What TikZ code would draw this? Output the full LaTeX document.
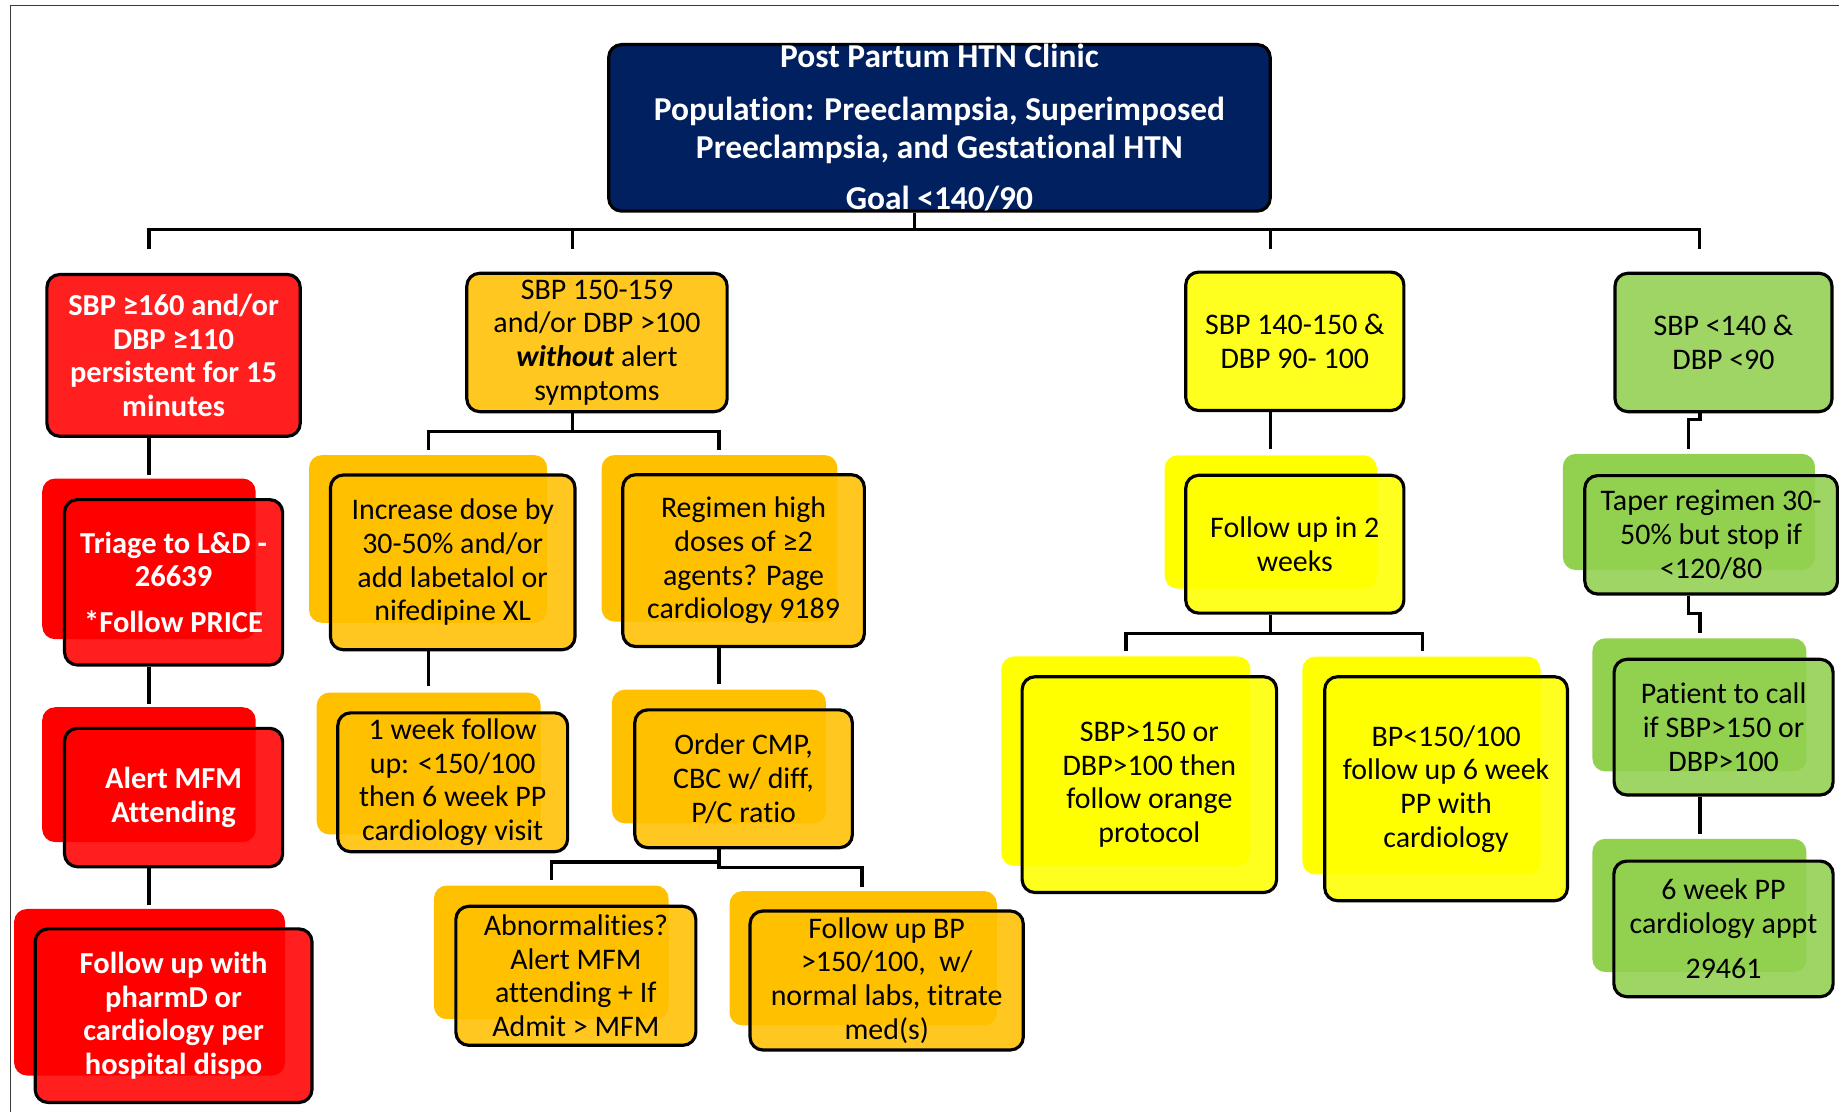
\documentclass[tikz,border=0pt]{standalone}
\usepackage{fontspec}
\setmainfont{Carlito}[Ligatures={TeX,NoCommon}]
\definecolor{navyc}{HTML}{002060}
\definecolor{redc}{HTML}{FF0000}
\definecolor{orangec}{HTML}{FFC000}
\definecolor{yellowc}{HTML}{FFFF00}
\definecolor{greenc}{HTML}{92D050}
\definecolor{framec}{HTML}{3A3A3A}
\newcommand{\titlefont}{\fontsize{28.5}{33}\selectfont\bfseries}
\newcommand{\redfont}{\fontsize{26}{28.5}\selectfont\bfseries}
\newcommand{\normfont}{\fontsize{25.5}{28.7}\selectfont}
\tikzset{
  conn/.style={line width=2.7pt, draw=black},
  box/.style={draw=black, line width=2.7pt, rounded corners=11pt, align=center, inner sep=0pt, fill opacity=0.88, text opacity=1},
  backbox/.style={rounded corners=11pt, inner sep=0pt},
  redbox/.style={box, fill=redc, text=white, font=\redfont},
  orangebox/.style={box, fill=orangec, text=black, font=\normfont},
  yellowbox/.style={box, fill=yellowc, text=black, font=\normfont},
  greenbox/.style={box, fill=greenc, text=black, font=\normfont},
  redback/.style={backbox, fill=redc},
  orangeback/.style={backbox, fill=orangec},
  yellowback/.style={backbox, fill=yellowc},
  greenback/.style={backbox, fill=greenc},
}
\begin{document}
\begin{tikzpicture}[x=1pt, y=-1pt]
\useasboundingbox (0,0) rectangle (1568,948);
\fill[white] (0,0) rectangle (1568,948);
\draw[framec, line width=1pt] (9,948) -- (9,5) -- (1568,5);

% ---------- coordinates for connector ends ----------
\coordinate (hub) at (780,196);
\coordinate (dR) at (127,212);
\coordinate (dO) at (488,212);
\coordinate (dY) at (1083,212);
\coordinate (dG) at (1449,212);
\coordinate (r12) at (127,405);
\coordinate (r23) at (127,600);
\coordinate (r34) at (127,772);
\coordinate (o1hub) at (488,368);
\coordinate (o1l) at (365,384);
\coordinate (o1r) at (613,384);
\coordinate (o24) at (365,585);
\coordinate (o35) at (613,583);
\coordinate (o5hubl) at (613,735);
\coordinate (o5hubr) at (613,740);
\coordinate (o5l) at (470,750);
\coordinate (o5r) at (735,756);
\coordinate (y12) at (1083,383);
\coordinate (y2hub) at (1083,540);
\coordinate (y2l) at (960,555);
\coordinate (y2r) at (1213,555);
\coordinate (g1a) at (1449.5,358);
\coordinate (g12) at (1440,383);
\coordinate (g2a) at (1440,523);
\coordinate (g23) at (1449.5,540);
\coordinate (g34) at (1449.5,711);

% ---------- boxes (back shapes first) ----------
\node[redback, minimum width=182, minimum height=137] (r2b) at (127,476.5) {};
\node[redback, minimum width=182, minimum height=115] (r3b) at (127,660.5) {};
\node[redback, minimum width=231, minimum height=142] (r4b) at (127.5,846) {};
\node[orangeback, minimum width=203, minimum height=143] (o2b) at (365,459.5) {};
\node[orangeback, minimum width=201, minimum height=142] (o3b) at (613.5,459) {};
\node[orangeback, minimum width=191, minimum height=121] (o4b) at (365.5,651) {};
\node[orangeback, minimum width=182.5, minimum height=114] (o5b) at (613,645) {};
\node[orangeback, minimum width=200, minimum height=114] (o6b) at (470,812) {};
\node[orangeback, minimum width=228, minimum height=114.5] (o7b) at (736,817) {};
\node[yellowback, minimum width=181, minimum height=113.6] (y2b) at (1083.5,445) {};
\node[yellowback, minimum width=212.4, minimum height=178.7] (y3b) at (960,649) {};
\node[yellowback, minimum width=203, minimum height=185.8] (y4b) at (1212,652.7) {};
\node[greenback, minimum width=215, minimum height=99] (g2b) at (1440,436.5) {};
\node[greenback, minimum width=182.5, minimum height=113.5] (g3b) at (1449,601) {};
\node[greenback, minimum width=182.5, minimum height=113.6] (g4b) at (1449,772) {};

% ---------- main boxes ----------
\node[box, fill=navyc, fill opacity=1, minimum width=564, minimum height=142] (top) at (801,109) {};
\node[text=white, font=\titlefont, align=center, inner sep=0pt] (toptext) at (801,108.5)
  {Post Partum HTN Clinic\\[12pt]Population: Preeclampsia, Superimposed\\Preeclampsia, and Gestational HTN\\[10pt]Goal <140/90};

\node[redbox, minimum width=216, minimum height=138] (r1) at (148,303)
  {SBP ≥160 and/or\\DBP ≥110\\persistent for 15\\minutes};
\node[redbox, minimum width=186, minimum height=141] (r2) at (148,496.5)
  {Triage to L\&D -\\26639\\[11pt]*Follow PRICE};
\node[redbox, minimum width=186, minimum height=118] (r3) at (148,680)
  {Alert MFM\\Attending};
\node[redbox, minimum width=236, minimum height=148] (r4) at (148,866)
  {Follow up with\\pharmD or\\cardiology per\\hospital dispo};

\node[orangebox, minimum width=222, minimum height=118] (o1) at (509,292)
  {SBP 150-159\\and/or DBP >100\\\textbf{\textit{without}} alert\\symptoms};
\node[orangebox, minimum width=208.5, minimum height=149] (o2) at (386,479.5)
  {Increase dose by\\30-50\% and/or\\add labetalol or\\nifedipine XL};
\node[orangebox, minimum width=206, minimum height=146.5] (o3) at (634,478)
  {Regimen high\\doses of ≥2\\agents? Page\\cardiology 9189};
\node[orangebox, minimum width=196, minimum height=118.4] (o4) at (386,667)
  {1 week follow\\up: <150/100\\then 6 week PP\\cardiology visit};
\node[orangebox, minimum width=185.5, minimum height=117.5] (o5) at (634,664)
  {Order CMP,\\CBC w/ diff,\\P/C ratio};
\node[orangebox, minimum width=204.6, minimum height=118.5] (o6) at (491,832)
  {Abnormalities?\\Alert MFM\\attending + If\\Admit > MFM};
\node[orangebox, minimum width=233, minimum height=118.5] (o7) at (756,836)
  {Follow up BP\\>150/100,\ \ w/\\normal labs, titrate\\med(s)};

\node[yellowbox, minimum width=186, minimum height=118] (y1) at (1104,291)
  {SBP 140-150 \&\\DBP 90- 100};
\node[yellowbox, minimum width=186, minimum height=117.5] (y2) at (1104,464)
  {Follow up in 2\\weeks};
\node[yellowbox, minimum width=217, minimum height=184] (y3) at (980,669)
  {SBP>150 or\\DBP>100 then\\follow orange\\protocol};
\node[yellowbox, minimum width=207, minimum height=191] (y4) at (1233,672.5)
  {BP<150/100\\follow up 6 week\\PP with\\cardiology};

\node[greenbox, minimum width=185, minimum height=118] (g1) at (1469.5,292)
  {SBP <140 \&\\DBP <90};
\node[greenbox, minimum width=215.5, minimum height=101] (g2) at (1459,456)
  {Taper regimen 30-\\50\% but stop if\\<120/80};
\node[greenbox, minimum width=186.7, minimum height=115.7] (g3) at (1469.6,620)
  {Patient to call\\if SBP>150 or\\DBP>100};
\node[greenbox, minimum width=187, minimum height=115.6] (g4) at (1469.5,792)
  {6 week PP\\cardiology appt\\[10pt]29461};

% ---------- connectors ----------
\draw[conn] (top.south -| hub) -- (hub) -| (dR);
\draw[conn] (top.south -| hub) -- (hub) -| (dO);
\draw[conn] (top.south -| hub) -- (hub) -| (dY);
\draw[conn] (top.south -| hub) -- (hub) -| (dG);

\draw[conn] (r1.south -| r12) -- (r12);
\draw[conn] (r2.south -| r23) -- (r23);
\draw[conn] (r3.south -| r34) -- (r34);

\draw[conn] (o1.south -| o1hub) -- (o1hub) -| (o1l);
\draw[conn] (o1.south -| o1hub) -- (o1hub) -| (o1r);
\draw[conn] (o2.south -| o24) -- (o24);
\draw[conn] (o3.south -| o35) -- (o35);
\draw[conn] (o5.south -| o5hubl) -- (o5hubl) -| (o5l);
\draw[conn] (o5.south -| o5hubr) -- (o5hubr) -| (o5r);

\draw[conn] (y1.south -| y12) -- (y12);
\draw[conn] (y2.south -| y2hub) -- (y2hub) -| (y2l);
\draw[conn] (y2.south -| y2hub) -- (y2hub) -| (y2r);

\draw[conn] (g1.south -| g1a) -- (g1a) -| (g12);
\draw[conn] (g2.south -| g2a) -- (g2a) -| (g23);
\draw[conn] (g3.south -| g34) -- (g34);
\end{tikzpicture}
\end{document}
